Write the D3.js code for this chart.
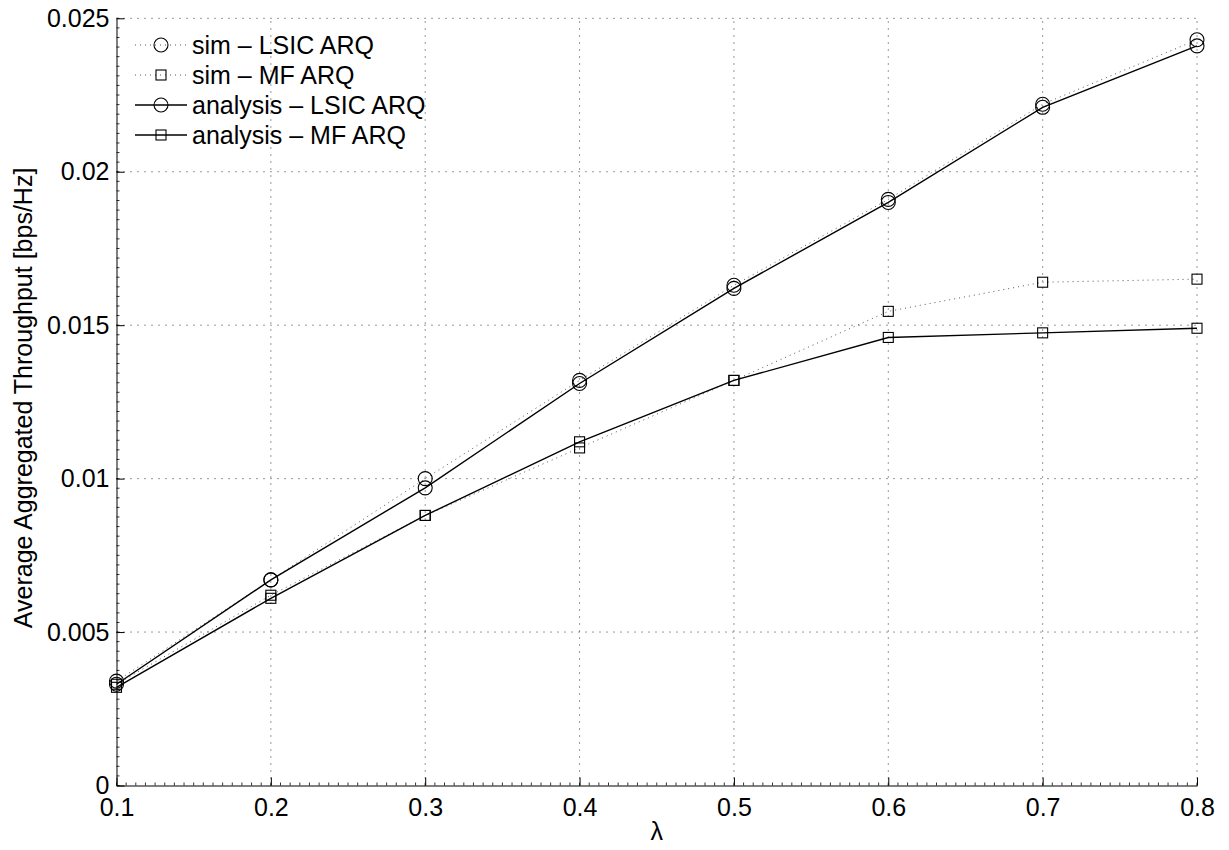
<!DOCTYPE html>
<html>
<head>
<meta charset="utf-8">
<script src="https://cdnjs.cloudflare.com/ajax/libs/d3/7.8.5/d3.min.js"></script>
<style>
  html, body { margin: 0; padding: 0; background: #fff; }
  svg { display: block; }
  text { font-family: "Liberation Sans", Arial, Helvetica, sans-serif; fill: #000; }
</style>
</head>
<body>
<svg id="chart" width="1229" height="850"></svg>
<script>
// Arrival rate values on the x axis
const lambda = [0.1, 0.2, 0.3, 0.4, 0.5, 0.6, 0.7, 0.8];

// Average aggregated throughput [bps/Hz]
const simLSIC = [0.0034, 0.0067, 0.0100, 0.0132, 0.0163, 0.0191, 0.0222, 0.0243];
const simMF   = [0.0033, 0.0062, 0.0088, 0.0110, 0.0132, 0.01545, 0.0164, 0.0165];
const anaLSIC = [0.0033, 0.0067, 0.0097, 0.0131, 0.0162, 0.0190, 0.0221, 0.0241];
const anaMF   = [0.0032, 0.0061, 0.0088, 0.0112, 0.0132, 0.0146, 0.01475, 0.0149];

const xTicks = [0.1, 0.2, 0.3, 0.4, 0.5, 0.6, 0.7, 0.8];
const yTicks = [0, 0.005, 0.01, 0.015, 0.02, 0.025];
const yTickLabels = ["0", "0.005", "0.01", "0.015", "0.02", "0.025"];

const seriesNames = ["sim \u2013 LSIC ARQ", "sim \u2013 MF ARQ", "analysis \u2013 LSIC ARQ", "analysis \u2013 MF ARQ"];

const series = [
  { name: seriesNames[0], values: simLSIC, dotted: true,  marker: "circle" },
  { name: seriesNames[1], values: simMF,   dotted: true,  marker: "square" },
  { name: seriesNames[2], values: anaLSIC, dotted: false, marker: "circle" },
  { name: seriesNames[3], values: anaMF,   dotted: false, marker: "square" }
];

const svg = d3.select("#chart");
const margin = { left: 116.5, right: 1229 - 1197, top: 18.3, bottom: 850 - 785.5 };
const W = 1229, H = 850;

const x = d3.scaleLinear().domain([0.1, 0.8]).range([margin.left, W - margin.right]);
const y = d3.scaleLinear().domain([0, 0.025]).range([H - margin.bottom, margin.top]);

const FONT = 25;

// dotted grid at major ticks
const grid = svg.append("g");
grid.selectAll("line.vg").data(xTicks.slice(1)).enter().append("line")
  .attr("x1", d => x(d)).attr("x2", d => x(d))
  .attr("y1", y(0)).attr("y2", y(0.025))
  .attr("stroke", "#333").attr("stroke-width", 1).attr("stroke-dasharray", "1,6");
grid.selectAll("line.hg").data(yTicks.slice(1)).enter().append("line")
  .attr("x1", x(0.1)).attr("x2", x(0.8))
  .attr("y1", d => y(d)).attr("y2", d => y(d))
  .attr("stroke", "#333").attr("stroke-width", 1).attr("stroke-dasharray", "1,6");

// minor ticks (inward)
const xMinor = d3.range(0, 7 * 16 + 1).map(i => 0.1 + i * 0.1 / 16);
const yMinor = d3.range(0, 5 * 16 + 1).map(i => i * 0.005 / 16);
svg.append("g").selectAll("line").data(xMinor).enter().append("line")
  .attr("x1", d => x(d)).attr("x2", d => x(d))
  .attr("y1", y(0)).attr("y2", y(0) - 3)
  .attr("stroke", "#000").attr("stroke-width", 0.8);
svg.append("g").selectAll("line").data(yMinor).enter().append("line")
  .attr("x1", x(0.1)).attr("x2", x(0.1) + 3)
  .attr("y1", d => y(d)).attr("y2", d => y(d))
  .attr("stroke", "#000").attr("stroke-width", 0.8);

// axes
const xAxis = d3.axisBottom(x).tickValues(xTicks).tickFormat(d3.format(".1f"))
  .tickSizeInner(-8).tickSizeOuter(0).tickPadding(14);
const yAxis = d3.axisLeft(y).tickValues(yTicks).tickFormat((d, i) => yTickLabels[i])
  .tickSizeInner(-8).tickSizeOuter(0).tickPadding(12);

const gx = svg.append("g").attr("transform", `translate(0,${y(0)})`).call(xAxis);
const gy = svg.append("g").attr("transform", `translate(${x(0.1)},0)`).call(yAxis);
[gx, gy].forEach(g => {
  g.select(".domain").attr("stroke", "#000").attr("stroke-width", 1);
  g.selectAll(".tick line").attr("stroke", "#000").attr("stroke-width", 1);
  g.selectAll(".tick text").attr("font-size", FONT).attr("fill", "#000")
    .style("font-family", "'Liberation Sans', Arial, sans-serif");
});
gx.selectAll(".tick text").attr("dy", "0.72em").attr("y", 12.5);
gy.selectAll(".tick text").attr("x", -7);

// axis labels
svg.append("text")
  .attr("x", (x(0.1) + x(0.8)) / 2).attr("y", 840)
  .attr("text-anchor", "middle").attr("font-size", FONT)
  .text("\u03bb");
svg.append("text")
  .attr("transform", `translate(32,${(y(0) + y(0.025)) / 2 - 4}) rotate(-90)`)
  .attr("text-anchor", "middle").attr("font-size", FONT)
  .text("Average Aggregated Throughput [bps/Hz]");

// series lines
const line = d3.line().x(d => x(d[0])).y(d => y(d[1]));
series.forEach(s => {
  const pts = lambda.map((l, i) => [l, s.values[i]]);
  svg.append("path").datum(pts)
    .attr("d", line).attr("fill", "none")
    .attr("stroke", s.dotted ? "#555" : "#000")
    .attr("stroke-width", s.dotted ? 1 : 1.4)
    .attr("stroke-dasharray", s.dotted ? "1,4" : null);
});

// markers
function drawMarker(g, type, cx, cy) {
  if (type === "circle") {
    g.append("circle").attr("cx", cx).attr("cy", cy).attr("r", 7)
      .attr("fill", "none").attr("stroke", "#000").attr("stroke-width", 1.1);
  } else {
    g.append("rect").attr("x", cx - 5).attr("y", cy - 5).attr("width", 10).attr("height", 10)
      .attr("fill", "none").attr("stroke", "#000").attr("stroke-width", 1.1);
  }
}
const mk = svg.append("g");
series.forEach(s => {
  lambda.forEach((l, i) => drawMarker(mk, s.marker, x(l), y(s.values[i])));
});

// legend
const lg = svg.append("g");
series.forEach((s, i) => {
  const cy = 45 + i * 30;
  lg.append("line").attr("x1", 135).attr("x2", 187).attr("y1", cy).attr("y2", cy)
    .attr("stroke", s.dotted ? "#555" : "#000")
    .attr("stroke-width", s.dotted ? 1 : 1.4)
    .attr("stroke-dasharray", s.dotted ? "1,4" : null);
  drawMarker(lg, s.marker, 161, cy);
  lg.append("text").attr("x", 192).attr("y", cy).attr("dy", "0.36em")
    .attr("font-size", FONT).text(s.name);
});
</script>
</body>
</html>
